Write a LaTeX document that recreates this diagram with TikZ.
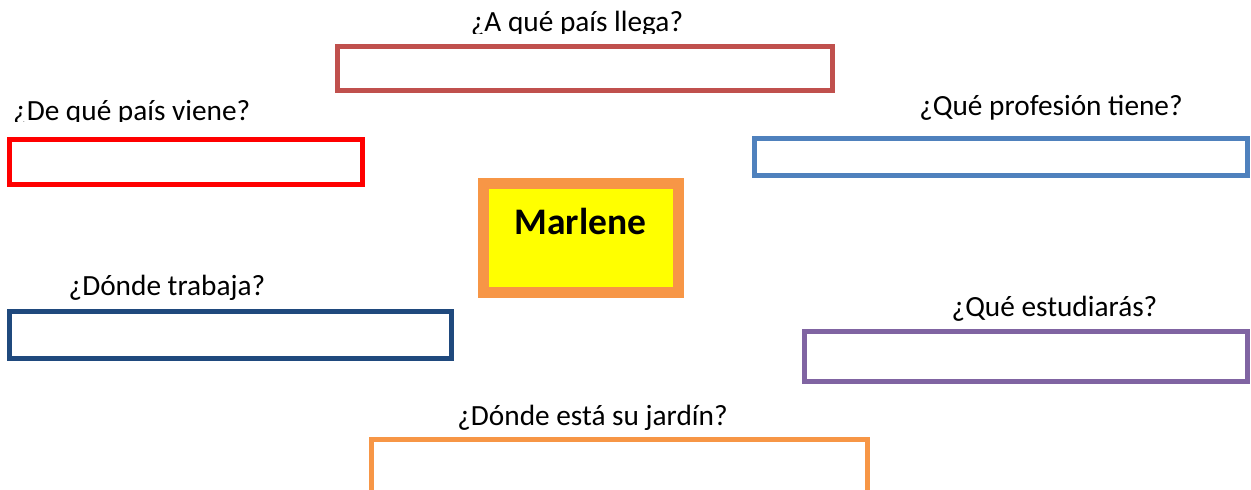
\documentclass[tikz,border=0pt]{standalone}
\usepackage{fontspec}
\setmainfont{Carlito}
\definecolor{cRedDark}{HTML}{C0504D}
\definecolor{cRed}{HTML}{FF0000}
\definecolor{cBlue}{HTML}{4F81BD}
\definecolor{cNavy}{HTML}{1F497D}
\definecolor{cPurple}{HTML}{8064A2}
\definecolor{cOrange}{HTML}{F79646}
\definecolor{cYellow}{HTML}{FFFF00}
\tikzset{
  answerbox/.style={draw=#1, line width=5pt, inner sep=0pt, fill=white},
  question/.style={inner sep=0pt, font=\fontsize{29.3}{34}\selectfont, text=black},
}
\begin{document}
\begin{tikzpicture}[x=1pt, y=-1pt]
\useasboundingbox (0,0) rectangle (1251,490);
\clip (0,0) rectangle (1251,490);
% boxes
\node[answerbox=cRedDark, minimum width=495pt, minimum height=44pt] (llega) at (585,68.5) {};
\node[answerbox=cRed, minimum width=353pt, minimum height=45pt] (viene) at (186,162) {};
\node[answerbox=cBlue, minimum width=493pt, minimum height=37pt] (profesion) at (1001,157) {};
\node[draw=cOrange, fill=cYellow, line width=11pt, inner sep=0pt, minimum width=195pt, minimum height=109pt] (center) at (580.5,237.5) {};
\node[font=\fontsize{37.5}{42}\selectfont\bfseries, inner sep=0pt, anchor=base] (marlene) at (580.5,234) {Marlene};
\node[answerbox=cNavy, minimum width=442pt, minimum height=47pt] (trabaja) at (230.5,335) {};
\node[answerbox=cPurple, minimum width=443pt, minimum height=50pt] (estudia) at (1026,356.5) {};
\node[answerbox=cOrange, minimum width=496pt, minimum height=60pt] (jardin) at (619.5,469.5) {};
% labels
\begin{scope}
\clip (0,0) rectangle (1251,33);
\node[question, anchor=base] (qllega) at (577,31.5) {¿A qué país llega?};
\end{scope}
\begin{scope}
\clip (0,0) rectangle (1251,121.5);
\node[question, anchor=base west] (qviene) at (13,120) {¿De qué país viene?};
\end{scope}
\node[question, anchor=base] (qprof) at (1051,115) {¿Qué profesión tiene?};
\node[question, anchor=base] (qtrab) at (167,295) {¿Dónde trabaja?};
\node[question, anchor=base] (qestu) at (1054.5,316) {¿Qué estudiarás?};
\node[question, anchor=base] (qjard) at (592.5,425.5) {¿Dónde está su jardín?};
\end{tikzpicture}
\end{document}
